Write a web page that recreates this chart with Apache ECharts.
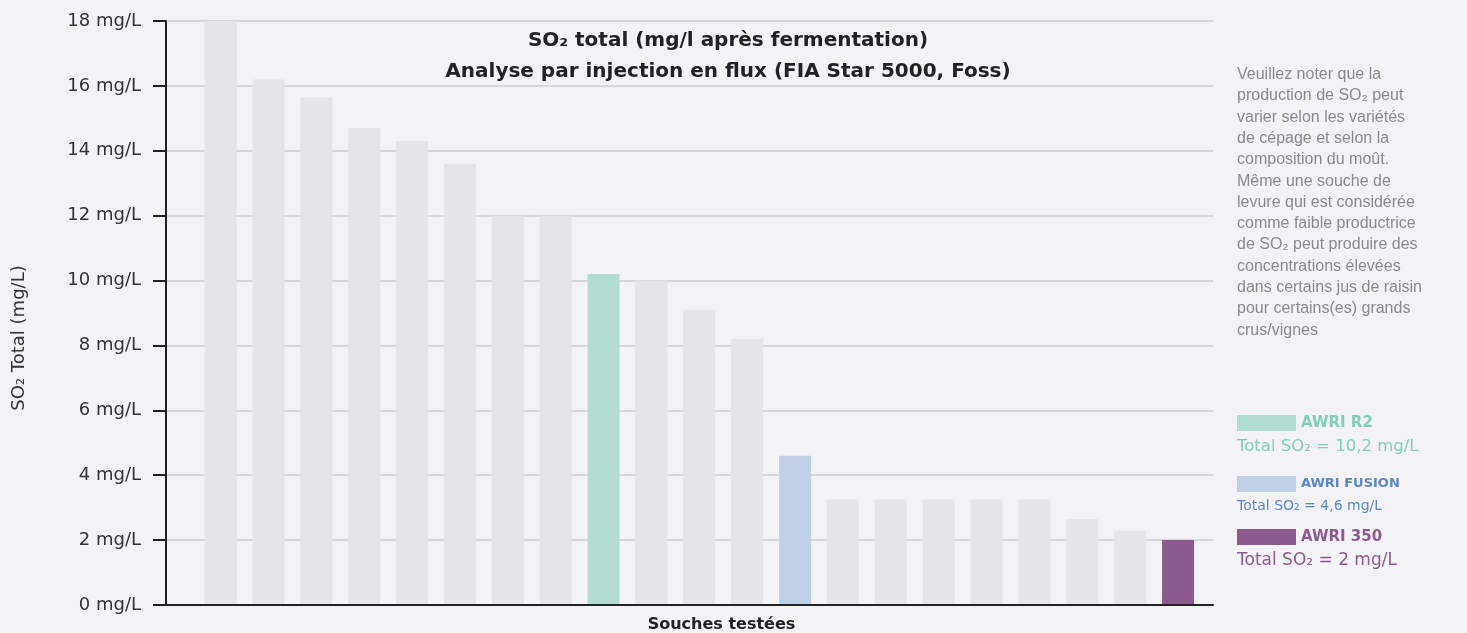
<!DOCTYPE html>
<html>
<head>
<meta charset="utf-8">
<script src="https://cdn.jsdelivr.net/npm/echarts@6/dist/echarts.min.js"></script>
<style>
html,body{margin:0;padding:0;background:#f3f2f7;}
#c{width:1467px;height:633px;}
</style>
</head>
<body>
<div id="c"></div>
<script>
const categories = ['S1','S2','S3','S4','S5','S6','S7','S8','AWRI R2','S10','S11','S12','AWRI FUSION','S14','S15','S16','S17','S18','S19','S20','AWRI 350'];
const values = [18.0, 16.2, 15.65, 14.7, 14.3, 13.6, 12.0, 12.0, 10.2, 10.0, 9.1, 8.2, 4.6, 3.25, 3.25, 3.25, 3.25, 3.25, 2.65, 2.3, 2.0];
const yTicks = [0, 2, 4, 6, 8, 10, 12, 14, 16, 18];
const highlight = {'AWRI R2':'#b1ddd1','AWRI FUSION':'#bfd1e7','AWRI 350':'#8c5a8c'};
const legendNames = ['AWRI R2','AWRI FUSION','AWRI 350'];
const legendTexts = ['Total SO₂ = 10,2 mg/L','Total SO₂ = 4,6 mg/L','Total SO₂ = 2 mg/L'];
const legendTextColors = ['#80cfb8','#5b87c4','#8c5a8c'];
const noteLines = ['Veuillez noter que la','production de SO₂ peut','varier selon les variétés','de cépage et selon la','composition du moût.','Même une souche de','levure qui est considérée','comme faible productrice','de SO₂ peut produire des','concentrations élevées','dans certains jus de raisin','pour certains(es) grands','crus/vignes'];
const titleLines = ['SO₂ total (mg/l après fermentation)','Analyse par injection en flux (FIA Star 5000, Foss)'];
const yName = 'SO₂ Total (mg/L)';
const xName = 'Souches testées';

const font = '"DejaVu Sans"';
const chart = echarts.init(document.getElementById('c'));

const legendGraphics = [];
const legendY = [423, 484, 537];
const nameFonts = ['bold 15px ', 'bold 13px ', 'bold 15px '];
const textFonts = ['16.5px ', '14px ', '17px '];
const textOffsets = [24, 22, 24];
legendNames.forEach((n, i) => {
  legendGraphics.push({type:'rect', shape:{x:1237, y:legendY[i]-8, width:59, height:16}, style:{fill:highlight[n]}});
  legendGraphics.push({type:'text', x:1301, y:legendY[i], style:{text:n, fill:legendTextColors[i], font:nameFonts[i]+font, verticalAlign:'middle'}});
  legendGraphics.push({type:'text', x:1237, y:legendY[i] + textOffsets[i], style:{text:legendTexts[i], fill:legendTextColors[i], font:textFonts[i]+font, verticalAlign:'middle'}});
});

chart.setOption({
  backgroundColor:'#f3f2f7',
  animation:false,
  title:{
    text: titleLines.join('\n'),
    left: 723, top: 20, textAlign:'center',
    textStyle:{fontFamily:font, fontSize:20, fontWeight:'bold', color:'#222', lineHeight:31}
  },
  grid:{left:166, right:254, top:21, bottom:28, containLabel:false, outerBoundsMode:'none'},
  xAxis:{
    type:'value', min:-1.14, max:20.73, z:5,
    axisLabel:{show:false}, axisTick:{show:false}, splitLine:{show:false},
    axisLine:{show:true, onZero:false, lineStyle:{color:'#222', width:2}},
    name:xName, nameLocation:'middle', nameGap:12,
    nameTextStyle:{fontFamily:font, fontSize:16, fontWeight:'bold', color:'#222', padding:[0,0,0,64]}
  },
  yAxis:{
    type:'value', min:0, max:18, interval:2,
    axisLine:{show:true, onZero:false, lineStyle:{color:'#222', width:2}},
    axisTick:{show:true, length:13, lineStyle:{color:'#222', width:2}},
    axisLabel:{fontFamily:font, fontSize:18, color:'#333', margin:25,
      formatter:v => yTicks.includes(v) ? v + ' mg/L' : ''},
    splitLine:{lineStyle:{color:'#cfcdd3', width:1.5}}
  },
  series:[{
    type:'bar', barWidth:32,
    data: values.map((v, i) => ({value:[i, v], itemStyle:{color: highlight[categories[i]] || '#e5e6e8'}}))
  }],
  graphic: [
    {type:'text', x:1237, y:64, style:{text: noteLines.join('\n'), fill:'#8a8a8e', font:'16px "Liberation Sans"', lineHeight:21.3}},
    {type:'text', x:19, y:338, rotation:Math.PI/2, style:{text:yName, fill:'#333', font:'18px '+font, align:'center', verticalAlign:'middle'}}
  ].concat(legendGraphics)
});
</script>
</body>
</html>
